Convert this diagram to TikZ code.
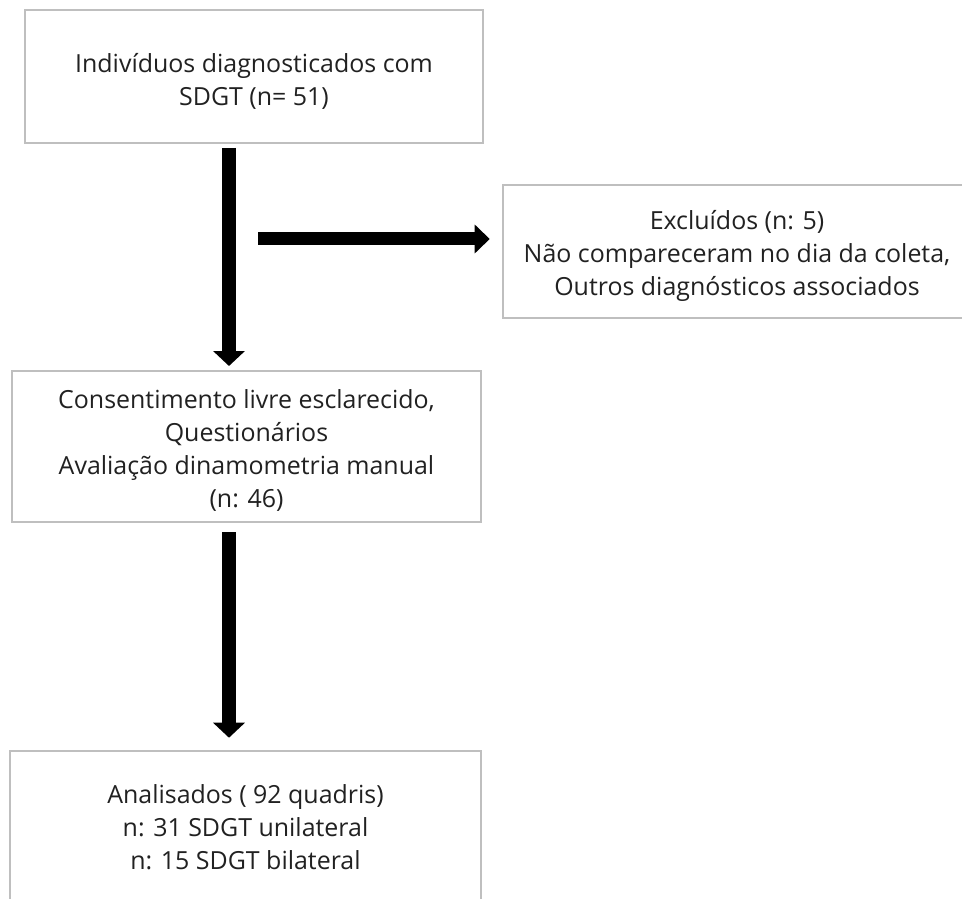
\documentclass[tikz,border=0pt]{standalone}
\usepackage{fontspec}
\setmainfont{Open Sans}[Ligatures=NoCommon]
\usetikzlibrary{arrows.meta}
\definecolor{boxgray}{RGB}{191,191,191}
\definecolor{txtgray}{RGB}{33,33,33}
\tikzset{
  box/.style={draw=boxgray, line width=1.5pt, fill=white, inner sep=0pt},
  openbox/.style={draw=none, fill=white, inner sep=0pt},
  boxline/.style={draw=boxgray, line width=1.5pt},
  txt/.style={align=center, text=txtgray, inner sep=0pt,
    font=\fontsize{18.7}{24.75}\selectfont},
  vbigarrow/.style={draw=black, line width=10.5pt,
    -{Triangle[width=23.25pt,length=11.25pt]}},
  hbigarrow/.style={draw=black, line width=9.75pt,
    -{Triangle[width=21pt,length=11.25pt]}}
}
\begin{document}
\begin{tikzpicture}[x=0.75pt,y=-0.75pt]
\useasboundingbox (0,0) rectangle (962,898);
\fill[white] (0,0) rectangle (962,898);

% boxes
\node[box, minimum width=343.5pt, minimum height=99.75pt] (b1) at (254,76.5) {};
\node[openbox, minimum width=344.25pt, minimum height=99.75pt] (b2) at (732.5,251.5) {};
\draw[boxline] (b2.north east) -- (b2.north west) -- (b2.south west) -- (b2.south east);
\node[box, minimum width=351.75pt, minimum height=113.25pt] (b3) at (246.5,446.5) {};
\node[openbox, minimum width=353.25pt, minimum height=114pt] (b4) at (245.5,827) {};
\draw[boxline] (b4.south west) -- (b4.north west) -- (b4.north east) -- (b4.south east);

% texts
\node[txt] (t1) at (254,81) {Indivíduos diagnosticados com\\SDGT (n= 51)};
\node[txt] (t2) at (737,256) {Excluídos (n: 5)\\Não compareceram no dia da coleta,\\Outros diagnósticos associados};
\node[txt] (t3) at (246.5,450) {Consentimento livre esclarecido,\\Questionários\\Avaliação dinamometria manual\\(n: 46)};
\node[txt] (t4) at (245.5,827) {Analisados ( 92 quadris)\\n: 31 SDGT unilateral\\n: 15 SDGT bilateral};

% connectors
\coordinate (ax) at (229,0);
\coordinate (hs) at (258,239);
\draw[vbigarrow, shorten <=3pt, shorten >=3pt] (ax |- b1.south) -- (ax |- b3.north);
\draw[hbigarrow, shorten >=9.75pt] (hs) -- (hs -| b2.west);
\draw[vbigarrow, shorten <=7pt, shorten >=9.75pt] (ax |- b3.south) -- (ax |- b4.north);
\end{tikzpicture}
\end{document}
